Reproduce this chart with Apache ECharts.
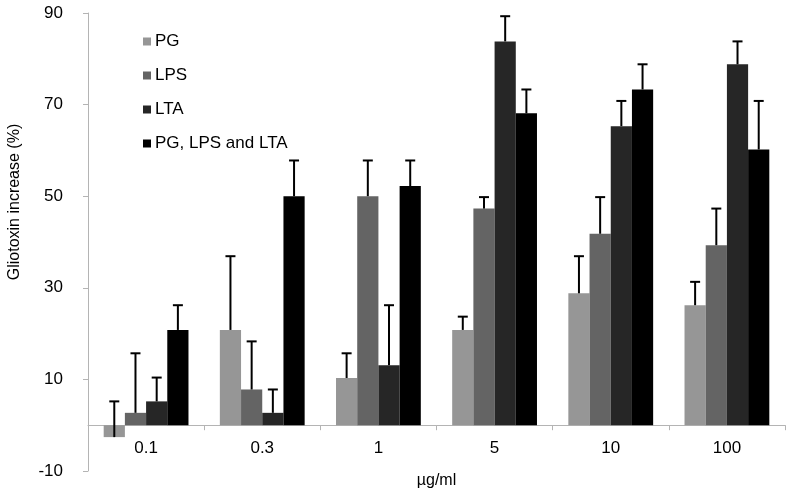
<!DOCTYPE html>
<html>
<head>
<meta charset="utf-8">
<script src="https://cdn.jsdelivr.net/npm/echarts@6/dist/echarts.min.js"></script>
<style>html,body{margin:0;padding:0;background:#fff;}#chart{width:794px;height:496px;}</style>
</head>
<body>
<div id="chart"></div>
<script>
const categories = ['0.1', '0.3', '1', '5', '10', '100'];
const seriesNames = ['PG', 'LPS', 'LTA', 'PG, LPS and LTA'];
const pgValues = [-2.6, 20.8, 10.3, 20.8, 28.8, 26.2];
const pgErrors = [7.8, 16.1, 5.4, 2.9, 8.1, 5.1];
const lpsValues = [2.7, 7.8, 50.0, 47.3, 41.8, 39.3];
const lpsErrors = [13.0, 10.5, 7.8, 2.5, 8.0, 8.0];
const ltaValues = [5.2, 2.7, 13.1, 83.8, 65.3, 78.8];
const ltaErrors = [5.2, 5.1, 13.1, 5.5, 5.5, 5.0];
const allValues = [20.8, 50.0, 52.2, 68.1, 73.3, 60.2];
const allErrors = [5.4, 7.8, 5.6, 5.2, 5.5, 10.6];
const yTicks = [-10, 10, 30, 50, 70, 90];

const colors = ['#969696', '#646464', '#262626', '#000000'];
const valueSets = [pgValues, lpsValues, ltaValues, allValues];
const errorSets = [pgErrors, lpsErrors, ltaErrors, allErrors];
const GAP = 0.27;
const FONT = '"Liberation Sans", Arial, sans-serif';

const errData = [];
valueSets.forEach((vals, s) => {
  vals.forEach((v, i) => errData.push([i, v, errorSets[s][i], s]));
});

const chart = echarts.init(document.getElementById('chart'), null, {renderer: 'canvas'});
const series = seriesNames.map((name, s) => ({
  name: name,
  type: 'bar',
  data: valueSets[s],
  barGap: 0,
  barCategoryGap: (GAP * 100) + '%',
  itemStyle: {color: colors[s]},
  emphasis: {disabled: true},
  z: 2
}));
series.push({
  type: 'custom',
  name: 'errors',
  data: errData,
  encode: {x: 0, y: 1},
  z: 5,
  silent: true,
  renderItem: function (params, api) {
    const cat = api.value(0), v = api.value(1), e = api.value(2), s = api.value(3);
    const catW = api.size([1, 0])[0];
    const barW = catW * (1 - GAP) / 4;
    const base = api.coord([cat, v]);
    const top = api.coord([cat, v + e]);
    const x = base[0] - 2 * barW + barW * (s + 0.5);
    const half = 5;
    const style = {stroke: '#000', lineWidth: 2};
    return {
      type: 'group',
      children: [
        {type: 'line', shape: {x1: x, y1: base[1], x2: x, y2: top[1]}, style: style},
        {type: 'line', shape: {x1: x - half, y1: top[1], x2: x + half, y2: top[1]}, style: style}
      ]
    };
  }
});

chart.setOption({
  animation: false,
  textStyle: {fontFamily: FONT},
  grid: {left: 88, right: 9, top: 13, bottom: 25, containLabel: false, outerBoundsMode: 'none'},
  legend: {
    data: seriesNames,
    orient: 'vertical',
    left: 138,
    top: 28,
    itemWidth: 8,
    itemHeight: 8,
    itemGap: 17,
    icon: 'rect',
    selectedMode: false,
    textStyle: {fontSize: 17, color: '#000', fontFamily: FONT, padding: [0, 0, 0, -1]}
  },
  xAxis: {
    type: 'category',
    data: categories,
    name: 'µg/ml',
    nameLocation: 'middle',
    nameGap: 2,
    nameTextStyle: {fontSize: 16, color: '#000', fontFamily: FONT},
    axisLine: {onZero: true, lineStyle: {color: '#b4b4b4', width: 1}},
    axisTick: {show: true, length: 5, lineStyle: {color: '#b4b4b4'}},
    axisLabel: {fontSize: 17, color: '#000', margin: -31, fontFamily: FONT},
    splitLine: {show: false}
  },
  yAxis: {
    type: 'value',
    min: -10,
    max: 90,
    interval: 10,
    axisLine: {show: true, lineStyle: {color: '#b4b4b4', width: 1}},
    axisTick: {show: true, length: 5, customValues: yTicks, lineStyle: {color: '#b4b4b4'}},
    axisLabel: {fontSize: 17, color: '#000', margin: 25, customValues: yTicks, fontFamily: FONT},
    splitLine: {show: false}
  },
  graphic: [{
    type: 'text',
    x: 15,
    y: 202,
    rotation: Math.PI / 2,
    style: {
      text: 'Gliotoxin increase (%)',
      fontSize: 16,
      fontFamily: FONT,
      fill: '#000',
      align: 'center',
      verticalAlign: 'middle'
    }
  }],
  series: series
});
</script>
</body>
</html>
